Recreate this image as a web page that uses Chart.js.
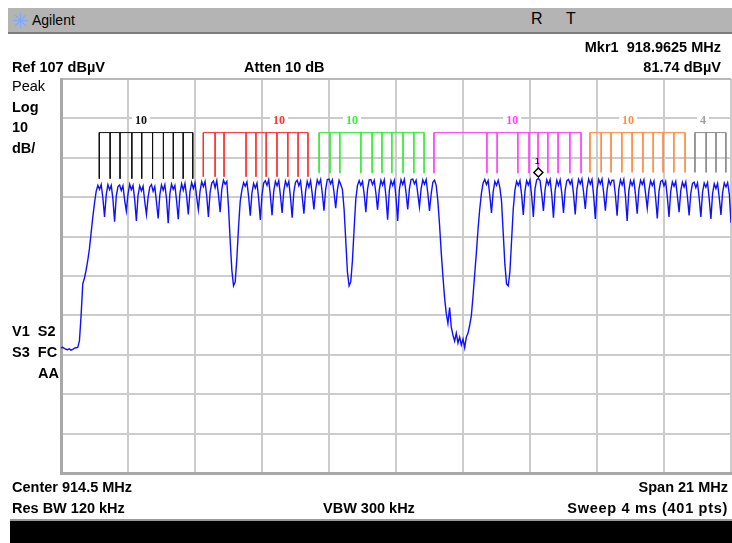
<!DOCTYPE html>
<html>
<head>
<meta charset="utf-8">
<script src="https://cdn.jsdelivr.net/npm/chart.js@4.4.0/dist/chart.umd.min.js"></script>
<style>
  body { margin: 0; background: #fff; width: 732px; height: 543px; overflow: hidden; position: relative; font-family: "Liberation Sans", Arial, sans-serif; }
  #wrap { position: absolute; left: 0; top: 0; width: 732px; height: 543px; }
  .t { position: absolute; font-size: 14.5px; font-weight: bold; line-height: 16px; white-space: pre; color: #000; }
  .r { text-align: right; }
  .n { font-weight: normal; }
  #topbar { position: absolute; left: 8px; top: 8px; width: 724px; height: 24px; background: #b4b4b4; border-bottom: 2px solid #7c7c7c; }
  #botbar { position: absolute; left: 10px; top: 519px; width: 722px; height: 24px; background: #000; border-top: 2px solid #9a9a9a; }
</style>
</head>
<body>
<div id="topbar"></div>
<svg style="position:absolute;left:12px;top:12px" width="17" height="17" viewBox="0 0 17 17">
  <g stroke="#7fa8ff" stroke-width="1.2">
    <line x1="8.5" y1="1" x2="8.5" y2="16"/><line x1="1" y1="8.5" x2="16" y2="8.5"/>
    <line x1="3.2" y1="3.2" x2="13.8" y2="13.8"/><line x1="13.8" y1="3.2" x2="3.2" y2="13.8"/>
  </g>
</svg>
<div class="t n" style="left:32px;top:12px;font-size:14px">Agilent</div>
<div class="t n" style="left:531px;top:11px;font-size:16px">R</div>
<div class="t n" style="left:566px;top:11px;font-size:16px">T</div>

<div id="wrap"><canvas id="chart" width="732" height="543"></canvas></div>

<div class="t r" style="right:11px;top:39px">Mkr1  918.9625 MHz</div>
<div class="t" style="left:12px;top:59px">Ref 107 dBµV</div>
<div class="t" style="left:244px;top:59px">Atten 10 dB</div>
<div class="t r" style="right:11px;top:59px">81.74 dBµV</div>
<div class="t n" style="left:12px;top:78px">Peak</div>
<div class="t" style="left:12px;top:99px">Log</div>
<div class="t" style="left:12px;top:119px">10</div>
<div class="t" style="left:12px;top:140px">dB/</div>
<div class="t" style="left:12px;top:323px">V1  S2</div>
<div class="t" style="left:12px;top:344px">S3  FC</div>
<div class="t" style="left:38px;top:365px">AA</div>
<div class="t" style="left:12px;top:479px">Center 914.5 MHz</div>
<div class="t r" style="right:4px;top:479px">Span 21 MHz</div>
<div class="t" style="left:12px;top:500px">Res BW 120 kHz</div>
<div class="t" style="left:323px;top:500px">VBW 300 kHz</div>
<div class="t r" style="right:4px;top:500px;letter-spacing:0.7px">Sweep 4 ms (401 pts)</div>
<div id="botbar"></div>

<script>
// DATA
const startFreq = 904;     // MHz
const stopFreq = 925;      // MHz
const sweepPoints = 401;
const refLevel = 107;      // dBuV
const bottomLevel = 7;
const xTicks = [904, 906.1, 908.2, 910.3, 912.4, 914.5, 916.6, 918.7, 920.8, 922.9, 925];
const yTicks = [7, 17, 27, 37, 47, 57, 67, 77, 87, 97, 107];

// trace, dBuV, one value per sweep point
const trace = [
  38.8, 38.9, 38.6, 38.4, 38.3, 38.5, 38.2, 38.4, 38.7, 38.8,
  38.9, 40.5, 47.0, 55.0, 56.5, 58.5, 61.0, 64.0, 68.0, 72.0,
  75.5, 78.5, 80.0, 79.0, 80.2, 76.8, 72.0, 77.6, 80.2, 78.9,
  80.0, 76.5, 70.8, 77.3, 79.7, 80.1, 78.7, 79.9, 76.2, 73.5,
  77.8, 80.3, 78.9, 80.0, 76.4, 71.0, 77.5, 79.9, 78.6, 79.8,
  75.9, 72.6, 77.0, 79.6, 80.2, 78.5, 79.7, 75.8, 71.6, 77.6,
  80.1, 78.8, 80.2, 76.6, 70.4, 77.9, 80.3, 79.0, 80.0, 76.1,
  71.4, 78.0, 80.4, 78.8, 80.5, 77.2, 72.6, 78.4, 80.7, 79.2,
  80.6, 77.0, 73.8, 78.5, 80.9, 79.7, 81.0, 77.3, 72.0, 78.2,
  80.6, 81.1, 79.4, 81.2, 77.6, 73.2, 79.0, 81.3, 80.3, 81.0,
  74.5, 66.0, 58.5, 54.5, 55.5, 61.5, 69.5, 76.0, 78.8, 80.7,
  79.8, 80.9, 77.2, 72.3, 78.1, 80.5, 79.3, 80.6, 76.7, 71.2,
  77.6, 80.6, 81.2, 80.0, 81.4, 77.4, 72.4, 78.5, 81.0, 79.9,
  81.2, 77.5, 73.0, 78.6, 81.1, 79.8, 81.0, 77.0, 71.8, 78.3,
  80.8, 81.3, 79.9, 81.1, 77.2, 72.8, 78.4, 81.0, 79.6, 81.2,
  77.8, 73.9, 78.9, 81.4, 80.3, 81.5, 78.0, 73.6, 79.0, 81.5,
  81.6, 80.4, 81.4, 78.2, 74.2, 78.8, 81.3, 80.2, 79.0, 74.0,
  66.0, 58.0, 54.5, 55.5, 61.0, 69.0, 76.5, 80.0, 81.2, 80.0,
  81.0, 77.8, 73.2, 79.0, 81.4, 81.5, 80.2, 81.3, 78.0, 73.8,
  78.8, 81.3, 80.1, 81.4, 77.2, 71.3, 78.6, 81.2, 80.0, 81.3,
  77.0, 71.0, 78.9, 81.4, 80.2, 81.5, 78.1, 73.9, 79.1, 81.5,
  81.6, 80.4, 81.3, 77.9, 74.5, 79.2, 81.4, 80.3, 81.5, 78.0,
  73.5, 77.8, 80.8, 81.3, 80.0, 76.0, 70.0, 63.0, 57.0, 51.5,
  47.5, 45.0, 49.0, 44.0, 42.0, 40.5, 42.5, 40.0, 41.5, 39.5,
  41.0, 38.8, 41.5, 42.5, 44.5, 47.0, 52.0, 57.5, 63.0, 69.0,
  74.0, 78.0, 80.6, 81.5, 80.2, 81.2, 77.5, 73.0, 78.3, 81.0,
  80.0, 81.3, 79.5, 76.0, 68.0, 60.0, 55.0, 54.5, 58.0, 66.0,
  74.0, 78.8, 81.0, 80.0, 81.2, 77.6, 72.5, 78.6, 81.2, 80.1,
  81.3, 77.3, 72.0, 79.2, 81.4, 81.74, 81.2, 77.8, 73.5, 78.9,
  81.4, 80.2, 81.5, 77.6, 71.8, 78.7, 81.3, 80.0, 81.4, 77.9,
  73.0, 78.8, 81.2, 81.5, 80.3, 81.4, 77.7, 72.6, 79.0, 81.5,
  80.4, 81.6, 78.2, 74.0, 79.2, 81.6, 80.3, 81.5, 77.4, 71.5,
  78.9, 81.5, 80.4, 81.6, 78.0, 73.6, 78.8, 81.4, 80.2, 81.3,
  81.3, 77.5, 72.3, 79.0, 81.4, 80.1, 81.5, 77.2, 71.0, 78.6,
  81.2, 80.0, 81.3, 77.6, 72.8, 78.9, 81.3, 80.2, 81.4, 77.9,
  74.2, 78.8, 81.2, 80.0, 81.1, 76.8, 71.6, 78.5, 81.0, 81.3,
  79.9, 81.0, 77.0, 72.0, 78.4, 80.9, 79.8, 81.0, 77.3, 73.2,
  78.6, 80.8, 79.6, 80.9, 77.0, 72.4, 78.0, 80.5, 80.8, 79.4,
  80.6, 76.8, 72.0, 78.2, 80.6, 79.5, 80.7, 76.5, 71.5, 77.9,
  80.4, 79.2, 80.5, 76.8, 72.5, 78.2, 80.6, 79.6, 80.7, 77.8,
  70.5
];

// channel tick groups (MHz)
const blackCh = [905.20, 905.54, 905.85, 906.22, 906.53, 906.87, 907.21, 907.52, 907.83, 908.13];
const redCh = [908.46, 908.83, 909.11, 909.80, 910.11, 910.43, 910.77, 911.11, 911.43, 911.74];
const greenCh = [912.09, 912.43, 912.74, 913.40, 913.75, 914.06, 914.37, 914.72, 915.06, 915.38];
const magentaCh = [915.69, 917.35, 917.67, 918.32, 918.67, 918.95, 919.26, 919.58, 919.95, 920.30];
const orangeCh = [920.58, 920.93, 921.24, 921.58, 921.90, 922.24, 922.56, 922.87, 923.21, 923.56];
const greyCh = [923.87, 924.22, 924.53, 924.84];
const groupCounts = ['10', '10', '10', '10', '10', '4'];
const groupLabelFreq = [906.51, 910.83, 913.12, 918.14, 921.77, 924.12];
const tickTop = 93.4;
const tickBottom = [81.7, 82.2, 83.1, 83.1, 83.3, 83.3];

const mkrFreq = 918.9625;
const mkrLevel = 81.74;

// BUILD
const stepMHz = (stopFreq - startFreq) / (sweepPoints - 1);
const traceData = trace.map((v, i) => ({ x: startFreq + i * stepMHz, y: v }));

const groups = [blackCh, redCh, greenCh, magentaCh, orangeCh, greyCh];
const groupColors = ['#111111', '#ff3030', '#33ee33', '#ff40ff', '#ff8c40', '#8a8a8a'];

function combData(freqs, bottom) {
  const pts = [];
  pts.push({ x: freqs[0], y: tickTop }, { x: freqs[freqs.length - 1], y: tickTop }, { x: freqs[freqs.length - 1], y: null });
  freqs.forEach(f => {
    pts.push({ x: f, y: tickTop }, { x: f, y: bottom }, { x: f, y: null });
  });
  return pts;
}

const combSets = groups.map((g, i) => ({
  type: 'scatter',
  data: combData(g, tickBottom[i]),
  showLine: true,
  spanGaps: false,
  borderColor: groupColors[i],
  borderWidth: 1,
  pointRadius: 0,
  order: 2
}));

const overlay = {
  id: 'overlay',
  afterDatasetsDraw(chart) {
    const { ctx, scales: { x, y } } = chart;
    ctx.save();
    // group count labels
    ctx.font = 'bold 12px "Liberation Serif", serif';
    ctx.textAlign = 'center';
    ctx.textBaseline = 'middle';
    groupCounts.forEach((txt, i) => {
      const px = x.getPixelForValue(groupLabelFreq[i]);
      const w = ctx.measureText(txt).width + 6;
      ctx.fillStyle = '#fff';
      ctx.fillRect(px - w / 2, 114, w, 13);
      ctx.fillStyle = i === 5 ? '#a0a0a0' : groupColors[i];
      ctx.fillText(txt, px, 121);
    });
    // marker 1
    const mx = x.getPixelForValue(mkrFreq);
    const my = y.getPixelForValue(mkrLevel) - 6;
    ctx.beginPath();
    ctx.moveTo(mx, my - 4.5);
    ctx.lineTo(mx + 4.5, my);
    ctx.lineTo(mx, my + 4.5);
    ctx.lineTo(mx - 4.5, my);
    ctx.closePath();
    ctx.fillStyle = '#fff';
    ctx.fill();
    ctx.strokeStyle = '#000';
    ctx.lineWidth = 1.5;
    ctx.stroke();
    ctx.fillStyle = '#000';
    ctx.font = '9px "Liberation Sans", sans-serif';
    ctx.fillText('1', mx - 1, my - 11);
    ctx.restore();
  }
};

new Chart(document.getElementById('chart'), {
  type: 'scatter',
  data: {
    datasets: [{
      type: 'line',
      data: traceData,
      borderColor: '#1010ff',
      borderWidth: 1.4,
      pointRadius: 0,
      tension: 0,
      order: 1
    }, ...combSets]
  },
  options: {
    responsive: false,
    animation: false,
    layout: { padding: { left: 61, top: 79, right: 1, bottom: 70 } },
    plugins: { legend: { display: false }, tooltip: { enabled: false } },
    scales: {
      x: {
        type: 'linear',
        min: startFreq,
        max: stopFreq,
        afterBuildTicks: s => { s.ticks = xTicks.map(v => ({ value: v })); },
        ticks: { display: false },
        grid: { color: '#cccccc', lineWidth: 2, drawTicks: false },
        border: { color: '#a8a8a8', width: 3 }
      },
      y: {
        type: 'linear',
        min: bottomLevel,
        max: refLevel,
        afterBuildTicks: s => { s.ticks = yTicks.map(v => ({ value: v })); },
        ticks: { display: false },
        grid: { color: c => c.index === yTicks.length - 1 ? '#b8b8b8' : '#cccccc', lineWidth: 2, drawTicks: false },
        border: { color: '#a8a8a8', width: 3 }
      }
    }
  },
  plugins: [overlay]
});
</script>
</body>
</html>
